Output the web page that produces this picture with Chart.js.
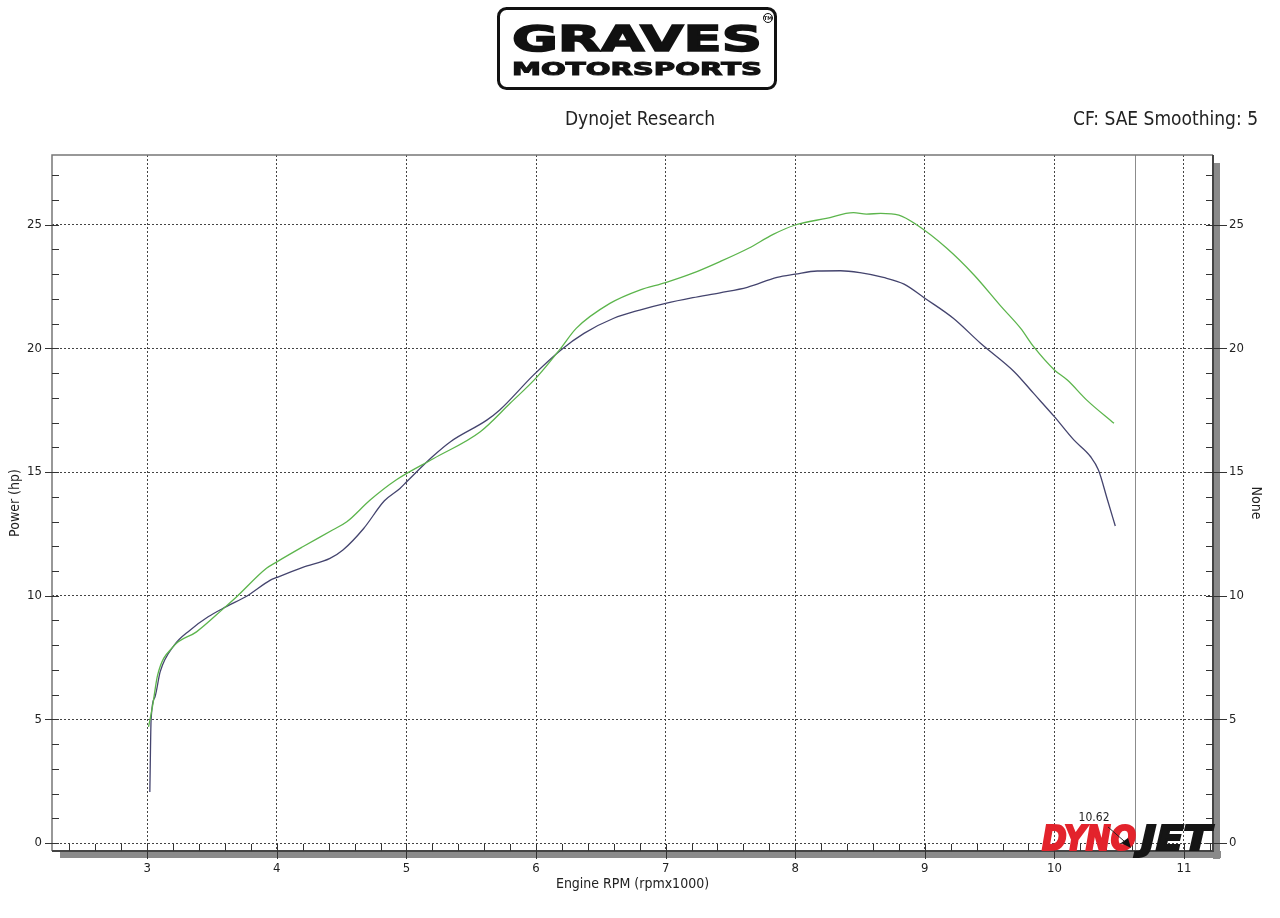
<!DOCTYPE html>
<html>
<head>
<meta charset="utf-8">
<title>Dynojet Research</title>
<script src="https://cdn.jsdelivr.net/npm/chart.js@4.4.1/dist/chart.umd.min.js"></script>
<style>
  html, body { margin: 0; padding: 0; background: #fff; }
  #wrap { width: 1280px; height: 918px; }
</style>
</head>
<body>
<div id="wrap"><canvas id="dynoChart" width="1280" height="918"></canvas></div>
<script>
// axis ticks and ranges (rpm x 1000 / hp)
const rpmTicks = [3, 4, 5, 6, 7, 8, 9, 10, 11];
const hpTicks = [0, 5, 10, 15, 20, 25];
const rpmRange = [2.265, 11.224];
const hpRange = [-0.32, 27.82];

// dark run
const darkRpm = [3.02, 3.03, 3.06, 3.10, 3.21, 3.33, 3.47, 3.61, 3.77, 3.95, 4.00, 4.20, 4.41, 4.51, 4.67, 4.83, 4.95, 5.00,
  5.20, 5.34, 5.62, 5.72, 5.98, 6.19, 6.37, 6.60, 6.80, 7.00, 7.21, 7.42, 7.63, 7.86, 8.00, 8.17, 8.35, 8.50, 8.68, 8.84,
  9.00, 9.22, 9.43, 9.69, 9.84, 10.00, 10.15, 10.28, 10.34, 10.41, 10.47];
const darkHp = [2.07, 5.04, 5.92, 6.93, 8.01, 8.61, 9.15, 9.56, 9.99, 10.63, 10.74, 11.15, 11.51, 11.85, 12.72, 13.84, 14.34, 14.60,
  15.62, 16.23, 17.10, 17.51, 18.92, 19.93, 20.61, 21.22, 21.55, 21.82, 22.05, 22.25, 22.47, 22.87, 23.00, 23.13, 23.14, 23.06, 22.87, 22.60,
  22.03, 21.22, 20.21, 19.06, 18.18, 17.24, 16.30, 15.62, 15.08, 13.87, 12.82];

// green run
const greenRpm = [3.01, 3.04, 3.08, 3.20, 3.38, 3.59, 3.69, 3.92, 4.00, 4.20, 4.43, 4.54, 4.72, 4.92, 5.21, 5.57, 5.80, 6.01,
  6.19, 6.31, 6.57, 6.80, 7.00, 7.21, 7.42, 7.64, 7.83, 8.00, 8.24, 8.45, 8.55, 8.66, 8.80, 8.94, 9.17, 9.38, 9.59, 9.74,
  9.84, 10.00, 10.10, 10.25, 10.46];
const greenHp = [4.70, 5.51, 6.79, 7.94, 8.54, 9.49, 9.96, 11.11, 11.37, 11.98, 12.66, 12.99, 13.87, 14.68, 15.55, 16.63, 17.78, 18.86,
  20.00, 20.81, 21.82, 22.36, 22.66, 23.04, 23.51, 24.05, 24.61, 24.99, 25.26, 25.49, 25.43, 25.46, 25.39, 24.99, 24.05, 22.97, 21.69, 20.81,
  20.07, 19.13, 18.72, 17.91, 16.97];

const cursorRpm = 10.62;

const FONT = '"DejaVu Sans Condensed", "DejaVu Sans", sans-serif';
const INK = '#222';

function toPoints(xs, ys) {
  return xs.map((x, i) => ({ x: x, y: ys[i] }));
}

// stretch a text to a given width around a center x, optional stroke to fatten it
function fitText(ctx, text, cx, baseline, width, font, fatten) {
  ctx.font = font;
  const w = ctx.measureText(text).width;
  ctx.save();
  ctx.translate(cx, baseline);
  ctx.scale(width / w, 1);
  ctx.textAlign = 'center';
  ctx.textBaseline = 'alphabetic';
  ctx.fillText(text, 0, 0);
  if (fatten) {
    ctx.strokeStyle = ctx.fillStyle;
    ctx.lineWidth = fatten;
    ctx.lineJoin = 'miter';
    ctx.strokeText(text, 0, 0);
  }
  ctx.restore();
}

function drawHeader(ctx) {
  ctx.save();
  // Graves logo box
  ctx.strokeStyle = '#111';
  ctx.lineWidth = 3;
  ctx.beginPath();
  ctx.roundRect(498.5, 8.5, 277, 80, 8);
  ctx.stroke();
  ctx.fillStyle = '#111';
  fitText(ctx, 'GRAVES', 637, 51, 250, 'bold 36px "DejaVu Sans"', 1.6);
  fitText(ctx, 'MOTORSPORTS', 637, 74.5, 250, 'bold 17px "DejaVu Sans"', 1);
  ctx.lineWidth = 1;
  ctx.beginPath();
  ctx.arc(768, 18, 4.5, 0, Math.PI * 2);
  ctx.stroke();
  ctx.font = 'bold 5px "DejaVu Sans"';
  ctx.textAlign = 'center';
  ctx.textBaseline = 'middle';
  ctx.fillText('TM', 768, 18.5);

  // run info
  ctx.fillStyle = INK;
  ctx.font = '19px ' + FONT;
  ctx.textBaseline = 'alphabetic';
  ctx.textAlign = 'center';
  ctx.fillText('Dynojet Research', 640, 125);
  ctx.textAlign = 'right';
  ctx.fillText('CF: SAE Smoothing: 5', 1258, 125);
  ctx.restore();
}

const dynoDecor = {
  id: 'dynoDecor',
  beforeDraw(chart) {
    const ctx = chart.ctx, a = chart.chartArea;
    ctx.save();
    ctx.fillStyle = '#fff';
    ctx.fillRect(0, 0, chart.width, chart.height);
    // frame shadow
    ctx.fillStyle = '#8a8a8a';
    ctx.fillRect(a.left + 8, a.bottom, a.right - a.left, 7);
    ctx.fillRect(a.right, a.top + 8, 7, a.bottom - a.top);
    ctx.restore();
    drawHeader(ctx);
  },
  afterDraw(chart) {
    const ctx = chart.ctx, a = chart.chartArea;
    const xs = chart.scales.x, ys = chart.scales.y;
    ctx.save();

    // cursor line
    const cx = Math.round(xs.getPixelForValue(cursorRpm)) + 0.5;
    ctx.strokeStyle = '#8c8c8c';
    ctx.lineWidth = 1;
    ctx.beginPath();
    ctx.moveTo(cx, a.top);
    ctx.lineTo(cx, a.bottom);
    ctx.stroke();

    // frame
    ctx.strokeStyle = '#777';
    ctx.lineWidth = 1.5;
    ctx.beginPath();
    ctx.moveTo(a.left, a.bottom);
    ctx.lineTo(a.left, a.top);
    ctx.lineTo(a.right, a.top);
    ctx.stroke();
    ctx.strokeStyle = '#444';
    ctx.lineWidth = 2;
    ctx.beginPath();
    ctx.moveTo(a.left, a.bottom);
    ctx.lineTo(a.right, a.bottom);
    ctx.lineTo(a.right, a.top);
    ctx.stroke();

    // minor and major ticks
    ctx.strokeStyle = '#333';
    ctx.lineWidth = 1;
    ctx.beginPath();
    for (let i = 12; i <= 56; i++) {
      const px = Math.round(xs.getPixelForValue(i / 5)) + 0.5;
      ctx.moveTo(px, a.bottom);
      ctx.lineTo(px, a.bottom - 7);
    }
    rpmTicks.forEach(v => {
      const px = Math.round(xs.getPixelForValue(v)) + 0.5;
      ctx.moveTo(px, a.bottom);
      ctx.lineTo(px, a.bottom + 8);
    });
    for (let h = 0; h <= 27; h++) {
      const py = Math.round(ys.getPixelForValue(h)) + 0.5;
      ctx.moveTo(a.left, py);
      ctx.lineTo(a.left + 7, py);
      ctx.moveTo(a.right, py);
      ctx.lineTo(a.right - 7, py);
    }
    hpTicks.forEach(v => {
      const py = Math.round(ys.getPixelForValue(v)) + 0.5;
      ctx.moveTo(a.left - 7, py);
      ctx.lineTo(a.left, py);
      ctx.moveTo(a.right, py);
      ctx.lineTo(a.right + 14, py);
    });
    ctx.stroke();

    // cursor value
    ctx.fillStyle = INK;
    ctx.font = '12px ' + FONT;
    ctx.textAlign = 'right';
    ctx.textBaseline = 'middle';
    ctx.fillText(cursorRpm.toFixed(2), cx - 26, 818);

    // Dynojet mark
    ctx.save();
    ctx.fillStyle = '#e3232c';
    fitText(ctx, 'DYNO', 1089, 850, 94, 'bold italic 34px "DejaVu Sans"', 2.2);
    ctx.fillStyle = '#151515';
    fitText(ctx, 'JET', 1176, 850, 70, 'bold italic 34px "DejaVu Sans"', 2.2);
    ctx.strokeStyle = '#222';
    ctx.lineWidth = 1;
    ctx.beginPath();
    ctx.moveTo(1108, 827);
    ctx.lineTo(1124, 841);
    ctx.stroke();
    ctx.fillStyle = '#111';
    ctx.beginPath();
    ctx.moveTo(1121, 843);
    ctx.lineTo(1128, 838);
    ctx.lineTo(1131, 848);
    ctx.closePath();
    ctx.fill();
    ctx.restore();

    ctx.restore();
  }
};

const tickFont = { family: FONT, size: 13 };
const titleFont = { family: FONT, size: 14 };

new Chart(document.getElementById('dynoChart'), {
  type: 'line',
  data: {
    datasets: [
      {
        label: 'Run 1',
        data: toPoints(greenRpm, greenHp),
        borderColor: '#5cb54c',
        borderWidth: 1.3,
        pointRadius: 0,
        tension: 0.3,
        cubicInterpolationMode: 'monotone',
        fill: false
      },
      {
        label: 'Run 2',
        data: toPoints(darkRpm, darkHp),
        borderColor: '#44446e',
        borderWidth: 1.3,
        pointRadius: 0,
        tension: 0.3,
        cubicInterpolationMode: 'monotone',
        fill: false
      }
    ]
  },
  options: {
    responsive: false,
    animation: false,
    devicePixelRatio: 1,
    layout: { padding: { top: 155, left: 0, right: 0, bottom: 0 } },
    plugins: {
      legend: { display: false },
      tooltip: { enabled: false }
    },
    scales: {
      x: {
        type: 'linear',
        position: 'bottom',
        min: rpmRange[0],
        max: rpmRange[1],
        afterBuildTicks: s => { s.ticks = rpmTicks.map(v => ({ value: v })); },
        afterFit: s => { s.height = 67; },
        grid: { color: '#444', lineWidth: 1, drawTicks: false },
        border: { display: false, dash: [2, 2] },
        ticks: { color: INK, font: tickFont, padding: 10, maxRotation: 0, autoSkip: false },
        title: { display: true, text: 'Engine RPM (rpmx1000)', color: INK, font: titleFont, padding: { top: 0, bottom: 25 } }
      },
      y: {
        type: 'linear',
        position: 'left',
        min: hpRange[0],
        max: hpRange[1],
        afterBuildTicks: s => { s.ticks = hpTicks.map(v => ({ value: v })); },
        afterFit: s => { s.width = 52; },
        grid: { color: '#444', lineWidth: 1, drawTicks: false },
        border: { display: false, dash: [2, 2] },
        ticks: { color: INK, font: tickFont, padding: 10 },
        title: { display: true, text: 'Power (hp)', color: INK, font: titleFont, padding: { top: 7, bottom: 0 } }
      },
      y2: {
        type: 'linear',
        position: 'right',
        min: hpRange[0],
        max: hpRange[1],
        afterBuildTicks: s => { s.ticks = hpTicks.map(v => ({ value: v })); },
        afterFit: s => { s.width = 67; },
        grid: { display: false, drawTicks: false },
        border: { display: false },
        ticks: { color: INK, font: tickFont, padding: 16 },
        title: { display: true, text: 'None', color: INK, font: titleFont, padding: { top: 16, bottom: 0 } }
      }
    }
  },
  plugins: [dynoDecor]
});
</script>
</body>
</html>
